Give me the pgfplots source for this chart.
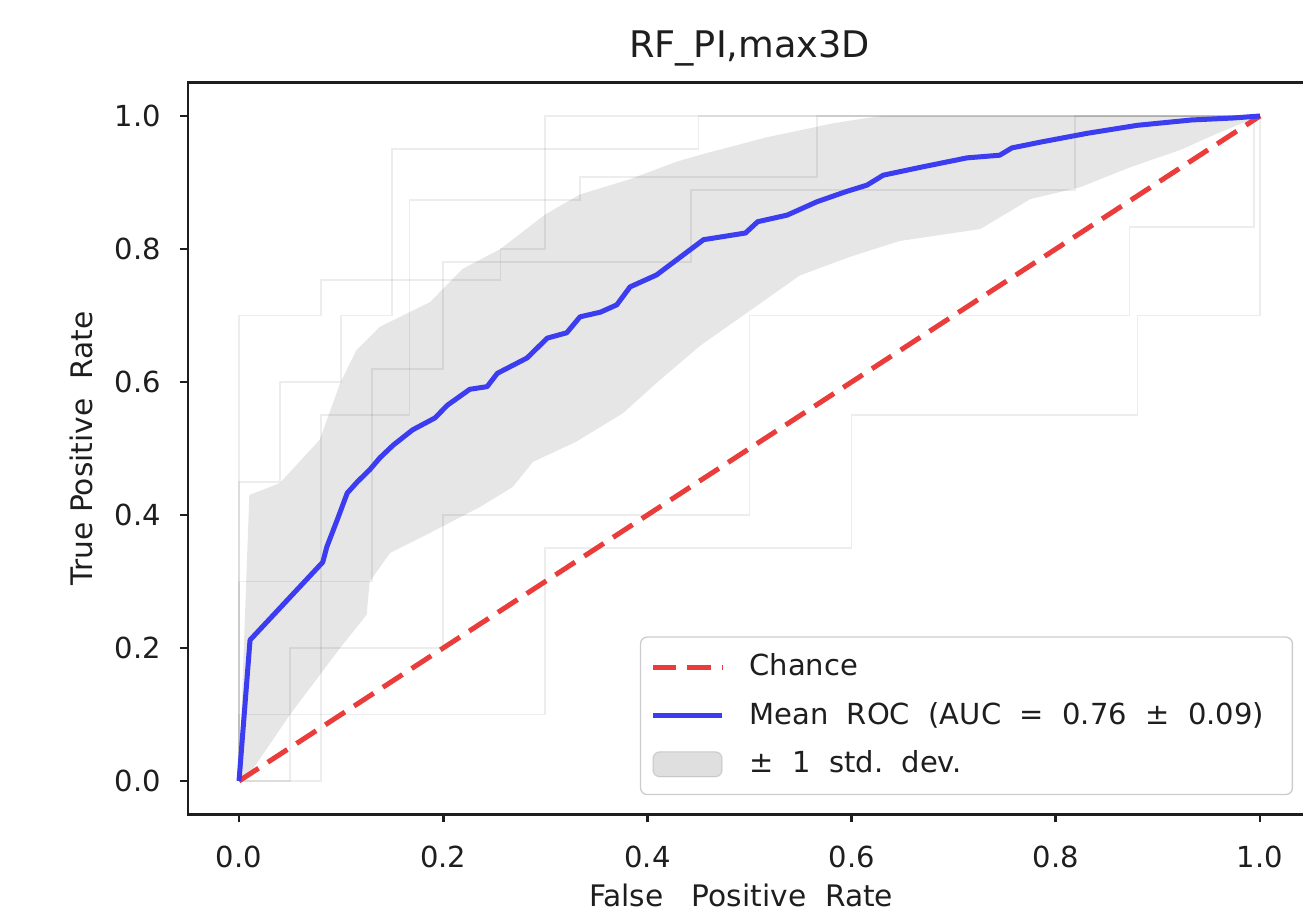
\documentclass[border=0pt]{standalone}
\usepackage{pgfplots}
\pgfplotsset{compat=1.18}
\usepgfplotslibrary{fillbetween}
\usepackage{fontspec}
\setmainfont{DejaVu Sans}
\definecolor{meanblue}{RGB}{60,60,240}
\definecolor{chancered}{RGB}{235,60,60}
\definecolor{axisdark}{RGB}{30,30,30}

\pgfplotstableread{
x y
0 0
0.0108 0.212
0.082 0.329
0.086 0.352
0.096 0.392
0.106 0.433
0.116 0.450
0.128 0.468
0.138 0.486
0.151 0.505
0.170 0.528
0.192 0.546
0.204 0.565
0.226 0.589
0.243 0.593
0.253 0.613
0.282 0.636
0.302 0.666
0.321 0.674
0.334 0.698
0.354 0.705
0.370 0.716
0.383 0.743
0.409 0.761
0.415 0.768
0.455 0.814
0.496 0.824
0.508 0.841
0.537 0.851
0.566 0.871
0.594 0.886
0.615 0.896
0.631 0.911
0.668 0.923
0.713 0.937
0.745 0.941
0.757 0.952
0.786 0.961
0.831 0.974
0.880 0.986
0.933 0.994
0.974 0.997
1 1
}\meanroc

\pgfplotstableread{
x y
0 0
0.0101 0.430
0.040 0.448
0.079 0.513
0.099 0.598
0.115 0.648
0.138 0.683
0.187 0.720
0.219 0.770
0.256 0.800
0.300 0.852
0.334 0.882
0.383 0.905
0.430 0.932
0.460 0.945
0.517 0.968
0.582 0.989
0.615 0.997
0.630 1
1 1
}\upperband

\pgfplotstableread{
x y
0 0
0.0101 0.010
0.050 0.100
0.099 0.200
0.125 0.250
0.128 0.300
0.148 0.343
0.187 0.373
0.236 0.412
0.268 0.442
0.288 0.480
0.330 0.510
0.376 0.553
0.410 0.600
0.452 0.655
0.503 0.710
0.549 0.760
0.598 0.788
0.647 0.812
0.726 0.830
0.775 0.875
0.824 0.893
0.873 0.923
0.922 0.949
0.960 0.975
1 1
}\lowerband

\begin{document}
\begin{tikzpicture}
\begin{axis}[
  x=306.3pt, y=199.5pt,
  xmin=-0.05, xmax=1.05, ymin=-0.05, ymax=1.05,
  xtick={0,0.2,0.4,0.6,0.8,1.0},
  ytick={0,0.2,0.4,0.6,0.8,1.0},
  xtick pos=bottom, ytick pos=left,
  tick align=outside,
  major tick length=2.4pt,
  tick style={axisdark, line width=0.8pt},
  axis line style={axisdark, line width=0.8pt},
  /pgf/number format/assume math mode=true,
  /pgf/number format/fixed,
  /pgf/number format/fixed zerofill,
  /pgf/number format/precision=1,
  ticklabel style={font=\fontsize{8.7}{10}\selectfont, text=axisdark},
  xticklabel style={anchor=north, inner sep=0pt, yshift=-6.9pt},
  yticklabel style={anchor=east, inner sep=0pt, xshift=-5.5pt},
  title={RF\_PI,max3D},
  title style={at={(axis description cs:0.5,1.0342)}, anchor=base, inner sep=0pt,
    yshift=-6pt, font=\fontsize{11}{12}\selectfont, text=axisdark},
  xlabel={False\ \ \ Positive\ \ Rate},
  xlabel style={at={(axis description cs:0.5,-0.0943)}, anchor=north, inner sep=0pt,
    xshift=-2.5pt, font=\fontsize{8.9}{10}\selectfont, text=axisdark},
  ylabel={True\ Positive\ \ Rate},
  ylabel style={at={(axis description cs:-0.0944,0.5)}, anchor=center, inner sep=0pt,
    font=\fontsize{8.9}{10}\selectfont, text=axisdark},
  legend style={at={(axis description cs:1,0)}, anchor=south east,
    xshift=-5.4pt, yshift=5.7pt, inner xsep=3pt, inner ysep=3pt,
    draw=black!20, rounded corners=2pt, fill=white, fill opacity=0.85, text opacity=1,
    font=\fontsize{8.7}{9.5}\selectfont, text=axisdark, row sep=2.4pt,
    /tikz/every odd column/.append style={column sep=5.5pt}},
  legend cell align=left,
  legend image code/.code={\draw[#1] (0pt,0pt) -- (20.7pt,0pt);},
]
% faint individual fold curves
\addplot[forget plot, black, opacity=0.07, line width=0.5pt] coordinates {
 (0,0) (0,0.70) (0.08,0.70) (0.08,0.753) (0.256,0.753) (0.256,0.80) (0.30,0.80) (0.30,1.0) (1,1)};
\addplot[forget plot, black, opacity=0.07, line width=0.5pt] coordinates {
 (0,0) (0.08,0) (0.08,0.55) (0.167,0.55) (0.167,0.874) (0.334,0.874) (0.334,0.908) (0.566,0.908) (0.566,1) (1,1)};
\addplot[forget plot, black, opacity=0.07, line width=0.5pt] coordinates {
 (0,0) (0,0.30) (0.13,0.30) (0.13,0.62) (0.20,0.62) (0.20,0.78) (0.443,0.78) (0.443,0.889) (0.819,0.889) (0.819,1) (1,1)};
\addplot[forget plot, black, opacity=0.07, line width=0.5pt] coordinates {
 (0,0) (0.05,0) (0.05,0.20) (0.20,0.20) (0.20,0.40) (0.50,0.40) (0.50,0.70) (0.872,0.70) (0.872,0.833) (0.994,0.833) (0.994,1) (1,1)};
\addplot[forget plot, black, opacity=0.07, line width=0.5pt] coordinates {
 (0,0) (0,0.10) (0.30,0.10) (0.30,0.35) (0.60,0.35) (0.60,0.55) (0.88,0.55) (0.88,0.70) (1,0.70) (1,1)};
\addplot[forget plot, black, opacity=0.07, line width=0.5pt] coordinates {
 (0,0) (0,0.45) (0.04,0.45) (0.04,0.60) (0.10,0.60) (0.10,0.70) (0.15,0.70) (0.15,0.95) (0.45,0.95) (0.45,1) (1,1)};
% std band
\addplot[forget plot, draw=none, name path=up] table {\upperband};
\addplot[forget plot, draw=none, name path=lo] table {\lowerband};
\addplot[forget plot, fill=gray, fill opacity=0.2, draw=none] fill between[of=up and lo];
% chance
\addplot[chancered, line width=1.5pt, dash pattern=on 7pt off 3.3pt] coordinates {(0,0) (1,1)};
\addlegendentry{\strut Chance}
% mean ROC
\addplot[meanblue, line width=1.5pt, line join=round] table {\meanroc};
\addlegendentry{\strut Mean\ \ ROC\ \ (AUC\ \ =\ \ 0.76\ \ ±\ \ 0.09)\kern3.5pt}
\addlegendimage{legend image code/.code={\fill[gray, opacity=0.25] (0pt,-3.75pt) rectangle (20.7pt,3.75pt);}}
\addlegendentry{\strut ±\ \ 1\ \ std.\ \ dev.}
\coordinate (bl) at (axis cs:-0.2341,-0.194);
\coordinate (tr) at (axis cs:1.0421,1.1744);
\end{axis}
\pgfresetboundingbox
\useasboundingbox (bl) rectangle (tr);
\end{tikzpicture}
\end{document}
